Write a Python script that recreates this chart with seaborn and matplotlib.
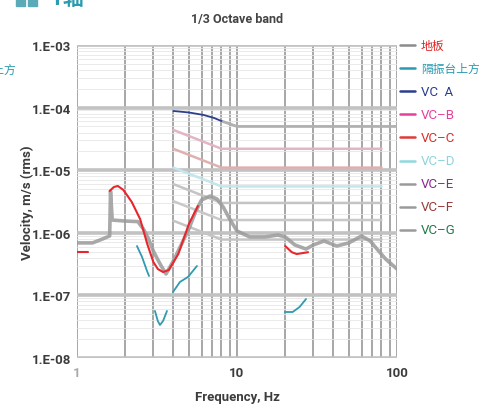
import numpy as np
import pandas as pd
import matplotlib
matplotlib.use("Agg")
import matplotlib.pyplot as plt
import seaborn as sns
from matplotlib.lines import Line2D
from matplotlib.patches import Rectangle
from matplotlib.ticker import LogLocator, NullFormatter, FixedLocator, FixedFormatter

sns.set_theme(style="white")
FONT = ["Roboto", "Noto Sans CJK SC", "DejaVu Sans"]
plt.rcParams["font.family"] = FONT

# ---------------- data ----------------
# grey measured curve
grey_f = [1.0, 1.25, 1.45, 1.6, 1.62, 1.66, 2.0, 2.4, 2.6, 2.8, 3.0, 3.3, 3.6, 4.0, 4.5, 5.0, 5.5,
          6.0, 6.8, 7.5, 8.2, 9.0, 10, 12, 15, 18, 20, 23, 27, 30, 35, 42, 50, 60, 68, 75, 85, 100]
grey_v = [6.9e-7, 6.9e-7, 8.0e-7, 8.9e-7, 4.6e-6, 1.6e-6, 1.54e-6, 1.51e-6, 1.15e-6, 8.0e-7, 5.1e-7,
          3.2e-7, 2.2e-7, 3.55e-7, 6.6e-7, 1.15e-6, 2.15e-6, 3.34e-6, 3.87e-6, 3.47e-6, 2.58e-6,
          1.66e-6, 1.07e-6, 8.6e-7, 8.6e-7, 9.2e-7, 8.6e-7, 6.4e-7, 5.5e-7, 6.4e-7, 7.4e-7, 6.15e-7,
          6.9e-7, 8.9e-7, 7.4e-7, 5.5e-7, 3.8e-7, 2.64e-7]

# floor (地板) – red, visible fragments
red_seg = [1, 1, 2, 2, 2, 2, 2, 2, 2, 2, 2, 2, 2, 2, 2, 2, 3, 3, 3, 3]
red_f = [1.0, 1.17, 1.6, 1.7, 1.8, 1.95, 2.2, 2.48, 2.75, 3.0, 3.2, 3.45, 3.75, 4.3, 5.0, 5.7,
         20, 22, 23.6, 27.8]
red_v = [4.9e-7, 4.9e-7, 4.66e-6, 5.39e-6, 5.6e-6, 4.83e-6, 3.1e-6, 1.66e-6, 6.6e-7, 3.42e-7,
         2.64e-7, 2.36e-7, 2.55e-7, 4.6e-7, 1.38e-6, 2.68e-6, 6.15e-7, 4.9e-7, 4.58e-7, 4.9e-7]

# above isolation table (隔振台上方) – teal, visible fragments
teal_seg = [1, 1, 1, 1, 2, 2, 2, 2, 2, 3, 3, 3, 3, 4, 4, 4, 4]
teal_f = [2.37, 2.55, 2.74, 2.82, 3.07, 3.2, 3.3, 3.45, 3.65, 3.98, 4.4, 4.94, 5.62,
          19.9, 22.3, 24.6, 27.0]
teal_v = [6.15e-7, 4.1e-7, 2.45e-7, 2.04e-7, 5.64e-8, 3.9e-8, 3.37e-8, 3.9e-8, 5.64e-8,
          1.13e-7, 1.64e-7, 1.97e-7, 2.95e-7, 5.43e-8, 5.43e-8, 6.53e-8, 8.75e-8]

# vibration criteria curves
vca_f = [4.0, 5.0, 6.2, 7.2, 8.0]
vca_v = [8.83e-5, 8.36e-5, 7.62e-5, 6.82e-5, 6.1e-5]
vca_tail_f = [8.0, 10, 100]
vca_tail_v = [6.1e-5, 5.0e-5, 5.0e-5]
vc_f = [4, 8, 80]
vcb_v = [4.4e-5, 2.2e-5, 2.2e-5]
vcc_v = [2.2e-5, 1.1e-5, 1.1e-5]
vcd_v = [1.1e-5, 5.5e-6, 5.5e-6]
vce_v = [6.0e-6, 3.0e-6, 3.0e-6]
vcf_v = [3.2e-6, 1.6e-6, 1.6e-6]
vcg_v = [1.56e-6, 7.8e-7, 7.8e-7]

legend_labels = ["地板", "隔振台上方", "VC  A", "VC–B", "VC–C", "VC–D", "VC–E", "VC–F", "VC–G"]
legend_line_colors = ["#8c8c8c", "#2a9bb0", "#2b3f8f", "#e8409a", "#e03a3a", "#8fd8e0",
                      "#9a9a9a", "#9a9a9a", "#9a9a9a"]
legend_text_colors = ["#e02020", "#2a9bb0", "#2b3f8f", "#e8409a", "#d83030", "#8fd4dc",
                      "#8b2a8f", "#9a3b3b", "#237a4a"]

ytick_vals = [1e-8, 1e-7, 1e-6, 1e-5, 1e-4, 1e-3]
ytick_labels = ["1.E-08", "1.E-07", "1.E-06", "1.E-05", "1.E-04", "1.E-03"]
xtick_vals = [1, 10, 100]
xtick_labels = ["1", "10", "100"]

# ---------------- figure ----------------
W, H = 483, 410
fig = plt.figure(figsize=(W / 100, H / 100), dpi=100)
ax = fig.add_axes([77 / W, 1 - 359 / H, 320 / W, 313 / H])
ax.set_xscale("log")
ax.set_yscale("log")
ax.set_xlim(1, 100)
ax.set_ylim(1e-8, 1e-3)

ax.yaxis.set_minor_locator(LogLocator(base=10, subs=np.arange(2, 10)))
ax.xaxis.set_minor_locator(LogLocator(base=10, subs=np.arange(2, 10)))
ax.xaxis.set_minor_formatter(NullFormatter())
ax.yaxis.set_minor_formatter(NullFormatter())
ax.grid(which="minor", axis="y", color="#e6e6e6", lw=0.6)
ax.grid(which="major", axis="y", color="#c2c2c2", lw=2.6)
ax.grid(which="both", axis="x", color="#a0a0a0", lw=1.3)
ax.set_axisbelow(True)
for s in ax.spines.values():
    s.set_visible(False)

# VC curves
vc_sets = [(vcb_v, "#e2b4c6"), (vcc_v, "#dfb0b0"), (vcd_v, "#c2e6ea"),
           (vce_v, "#c4c4c4"), (vcf_v, "#c8c8c8"), (vcg_v, "#c4c4c4")]
for vals, col in vc_sets:
    sns.lineplot(x=vc_f, y=vals, ax=ax, color=col, lw=1.8, estimator=None, sort=False)
sns.lineplot(x=vca_tail_f, y=vca_tail_v, ax=ax, color="#b0b0b0", lw=2.0, estimator=None, sort=False)
sns.lineplot(x=vca_f, y=vca_v, ax=ax, color="#2b3f8f", lw=1.3, estimator=None, sort=False)

# measured curves
sns.lineplot(x=grey_f, y=grey_v, ax=ax, color="#9a9a9a", lw=2.6, alpha=0.85,
             estimator=None, sort=False)
red_df = pd.DataFrame({"f": red_f, "v": red_v, "seg": red_seg})
sns.lineplot(data=red_df, x="f", y="v", units="seg", estimator=None, sort=False,
             ax=ax, color="#e8262c", lw=1.5)
teal_df = pd.DataFrame({"f": teal_f, "v": teal_v, "seg": teal_seg})
sns.lineplot(data=teal_df, x="f", y="v", units="seg", estimator=None, sort=False,
             ax=ax, color="#2f9ab0", lw=1.3)

ax.set_xlim(1, 100)
ax.set_ylim(1e-8, 1e-3)
ax.set_xlabel("")
ax.set_ylabel("")
ax.yaxis.set_major_locator(FixedLocator(ytick_vals))
ax.yaxis.set_major_formatter(FixedFormatter(ytick_labels))
ax.xaxis.set_major_locator(FixedLocator(xtick_vals))
ax.xaxis.set_major_formatter(FixedFormatter(xtick_labels))
ax.tick_params(axis="both", which="both", length=0)
ax.tick_params(axis="y", pad=4, labelsize=9.5, labelcolor="#3c3c3c")
ax.tick_params(axis="x", pad=6, labelsize=9.5, labelcolor="#3c3c3c")
for t in ax.get_yticklabels() + ax.get_xticklabels():
    t.set_fontweight("bold")
ax.get_xticklabels()[0].set_color("#aaaaaa")

# titles / labels
fig.text(237 / W, 1 - 20 / H, "1/3 Octave band", ha="center", va="center",
         fontsize=9, fontweight="bold", color="#444444")
fig.text(237 / W, 1 - 398 / H, "Frequency, Hz", ha="center", va="center",
         fontsize=9.5, fontweight="bold", color="#3c3c3c")
fig.text(27 / W, 1 - 203 / H, "Velocity, m/s (rms)", ha="center", va="center",
         rotation=90, fontsize=9.5, fontweight="bold", color="#3c3c3c")

# header fragments (cut off at top / left)
fig.add_artist(Rectangle((16 / W, 1 - 7 / H), 9 / W, 9 / H, transform=fig.transFigure,
                         color="#5aaab8", clip_on=False))
fig.add_artist(Rectangle((28 / W, 1 - 7 / H), 9 / W, 9 / H, transform=fig.transFigure,
                         color="#5aaab8", clip_on=False))
fig.text(50 / W, 1 + 1 / H, "Y轴", ha="left", va="center", fontsize=15,
         fontweight="bold", color="#2a9bb0")
fig.text(16 / W, 1 - 70 / H, "隔振台上方", ha="right", va="center", fontsize=8.5,
         color="#2a9bb0")

# legend (right side)
for i, (lab, lc, tc) in enumerate(zip(legend_labels, legend_line_colors, legend_text_colors)):
    yp = 1 - (46 + i * 23.1) / H
    fig.add_artist(Line2D([400 / W, 415 / W], [yp, yp], transform=fig.transFigure,
                          color=lc, lw=1.8))
    fs = 8.5 if i < 2 else 9.5
    fig.text(421 / W, yp, lab, ha="left", va="center", fontsize=fs, color=tc)

fig.savefig("out.png", dpi=100)
